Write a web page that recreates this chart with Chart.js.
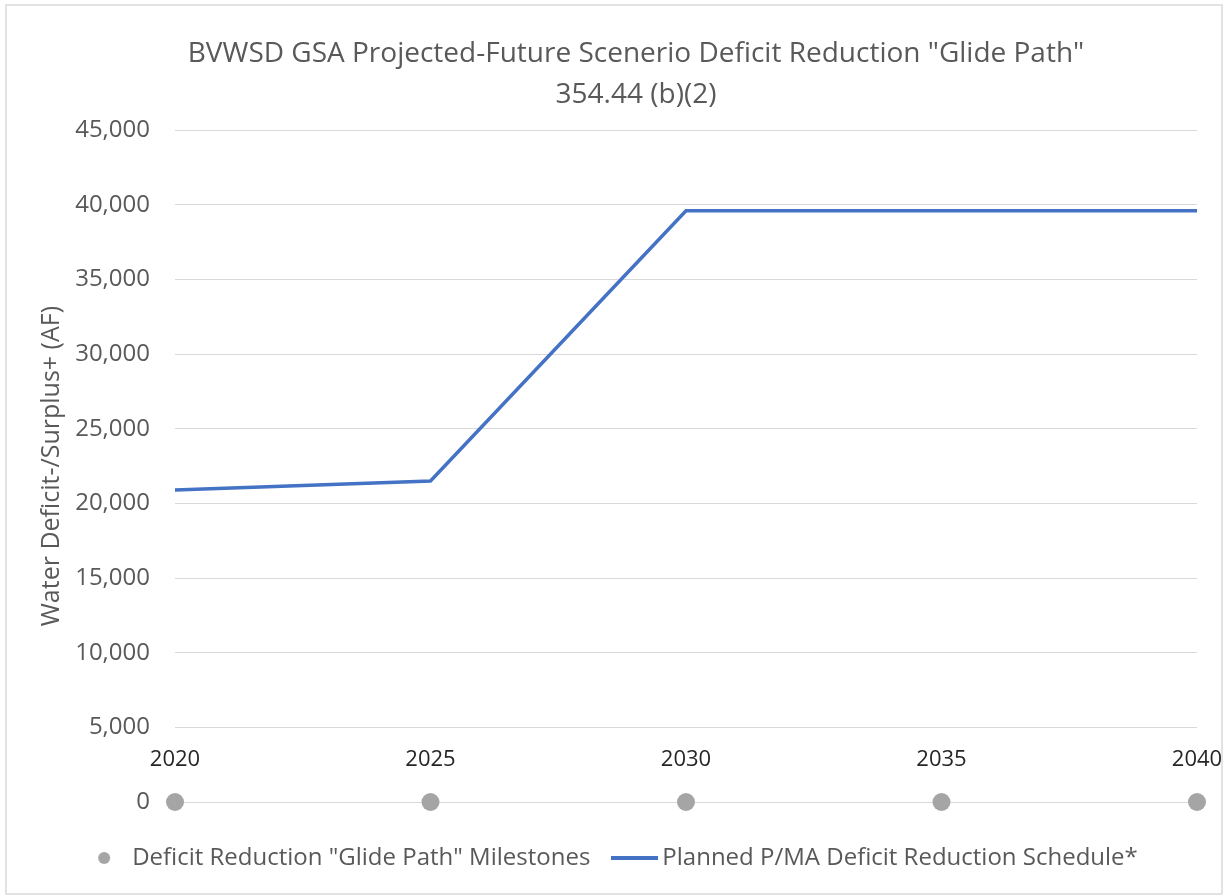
<!DOCTYPE html>
<html>
<head>
<meta charset="utf-8">
<script src="https://cdn.jsdelivr.net/npm/chart.js@4/dist/chart.umd.min.js"></script>
<style>
  html, body { margin: 0; padding: 0; background: #ffffff; }
  #frame { position: absolute; left: 5px; top: 4px; width: 1218px; height: 891px; box-sizing: border-box; border: 2px solid #e3e3e3; }
  #wrap { position: absolute; left: 0; top: 0; width: 1225px; height: 896px; }
</style>
</head>
<body>
<div id="frame"></div>
<div id="wrap"><canvas id="c" width="1225" height="896"></canvas></div>
<script>
const titleLines = ['BVWSD GSA Projected-Future Scenerio Deficit Reduction "Glide Path"', '354.44 (b)(2)'];
const yAxisTitle = 'Water Deficit-/Surplus+ (AF)';
const milestoneLabel = 'Deficit Reduction "Glide Path" Milestones';
const scheduleLabel = 'Planned P/MA Deficit Reduction Schedule*';

const milestoneYears = [2020, 2025, 2030, 2035, 2040];
const milestoneValues = [0, 0, 0, 0, 0];

const scheduleYears = [2020, 2025, 2030, 2035, 2040];
const scheduleValues = [20900, 21500, 39600, 39600, 39600];

const xTickLabels = ['2020', '2025', '2030', '2035', '2040'];
const yTicks = [0, 5000, 10000, 15000, 20000, 25000, 30000, 35000, 40000, 45000];

const FONT = "'Open Sans', 'DejaVu Sans', sans-serif";
const GREY = '#a5a5a5';
const BLUE = '#4472c4';

function makeCircle(r, color) {
  const c = document.createElement('canvas');
  c.width = r * 2 + 2; c.height = r * 2 + 2;
  const g = c.getContext('2d');
  g.fillStyle = color; g.beginPath(); g.arc(r + 1, r + 1, r, 0, Math.PI * 2); g.fill();
  return c;
}
function makeLine(w, h, color) {
  const c = document.createElement('canvas');
  c.width = w; c.height = h;
  const g = c.getContext('2d');
  g.fillStyle = color; g.fillRect(0, 0, w, h);
  return c;
}
const legendCircle = makeCircle(6, GREY);
const legendLine = makeLine(47, 4, BLUE);

const shiftPlugin = {
  id: 'shiftBlocks',
  afterLayout(chart) {
    const t = chart.titleBlock;
    if (t) { t.left += 19; t.right += 19; }
    const l = chart.legend;
    if (l) { l.left -= 4; l.right -= 4; }
  }
};

new Chart(document.getElementById('c'), {
  type: 'line',
  data: {
    datasets: [
      {
        label: milestoneLabel,
        type: 'scatter',
        data: milestoneYears.map((x, i) => ({ x: x, y: milestoneValues[i] })),
        backgroundColor: GREY,
        borderColor: GREY,
        pointRadius: 9,
        pointHoverRadius: 9,
        pointBorderWidth: 0,
        showLine: false,
        clip: false,
        order: 1
      },
      {
        label: scheduleLabel,
        data: scheduleYears.map((x, i) => ({ x: x, y: scheduleValues[i] })),
        borderColor: BLUE,
        backgroundColor: BLUE,
        borderWidth: 3.5,
        pointRadius: 0,
        tension: 0,
        clip: false,
        order: 2
      }
    ]
  },
  options: {
    responsive: false,
    animation: false,
    devicePixelRatio: 1,
    layout: { padding: { left: 37, right: 28, top: 10, bottom: 16 } },
    plugins: {
      title: {
        display: true,
        text: titleLines,
        color: '#595959',
        font: { family: FONT, size: 28, weight: 'normal', lineHeight: 1.45 },
        padding: { top: 24, bottom: 15 }
      },
      legend: {
        display: true,
        position: 'bottom',
        labels: {
          usePointStyle: true,
          pointStyleWidth: 32,
          padding: 28,
          color: '#595959',
          font: { family: FONT, size: 24 },
          generateLabels(chart) {
            return chart.data.datasets.map((ds, i) => ({
              text: ds.label,
              datasetIndex: i,
              pointStyle: i === 0 ? legendCircle : legendLine,
              fillStyle: ds.backgroundColor,
              strokeStyle: ds.borderColor,
              lineWidth: 0,
              hidden: false,
              fontColor: '#595959'
            }));
          }
        }
      },
      tooltip: { enabled: false }
    },
    scales: {
      x: {
        type: 'linear',
        position: { y: 5000 },
        min: 2020,
        max: 2040,
        grid: { display: false, drawTicks: false },
        border: { display: false },
        afterBuildTicks(scale) {
          scale.ticks = milestoneYears.map(v => ({ value: v }));
        },
        afterFit(scale) { scale.paddingLeft = 0; scale.paddingRight = 0; },
        ticks: {
          padding: 19,
          color: '#262626',
          font: { family: FONT, size: 22 },
          maxRotation: 0,
          autoSkip: false,
          callback(value, index) { return xTickLabels[index]; }
        }
      },
      spacer: {
        type: 'linear',
        axis: 'x',
        position: 'bottom',
        display: true,
        grid: { display: false, drawTicks: false },
        border: { display: false },
        ticks: { display: false },
        afterFit(scale) { scale.height = 16; scale.paddingLeft = 0; scale.paddingRight = 0; }
      },
      y: {
        type: 'linear',
        min: 0,
        max: 45000,
        afterBuildTicks(scale) {
          scale.ticks = yTicks.map(v => ({ value: v }));
        },
        afterFit(scale) { scale.width = 138; },
        grid: { color: '#d9d9d9', lineWidth: 1, drawTicks: false },
        border: { display: false },
        ticks: {
          padding: 25,
          color: '#595959',
          font: { family: FONT, size: 24 },
          callback(value) { return value.toLocaleString('en-US'); }
        },
        title: {
          display: true,
          text: yAxisTitle,
          color: '#595959',
          font: { family: FONT, size: 25 },
          padding: { top: 0, bottom: 0 }
        }
      }
    }
  },
  plugins: [shiftPlugin]
});
</script>
</body>
</html>
